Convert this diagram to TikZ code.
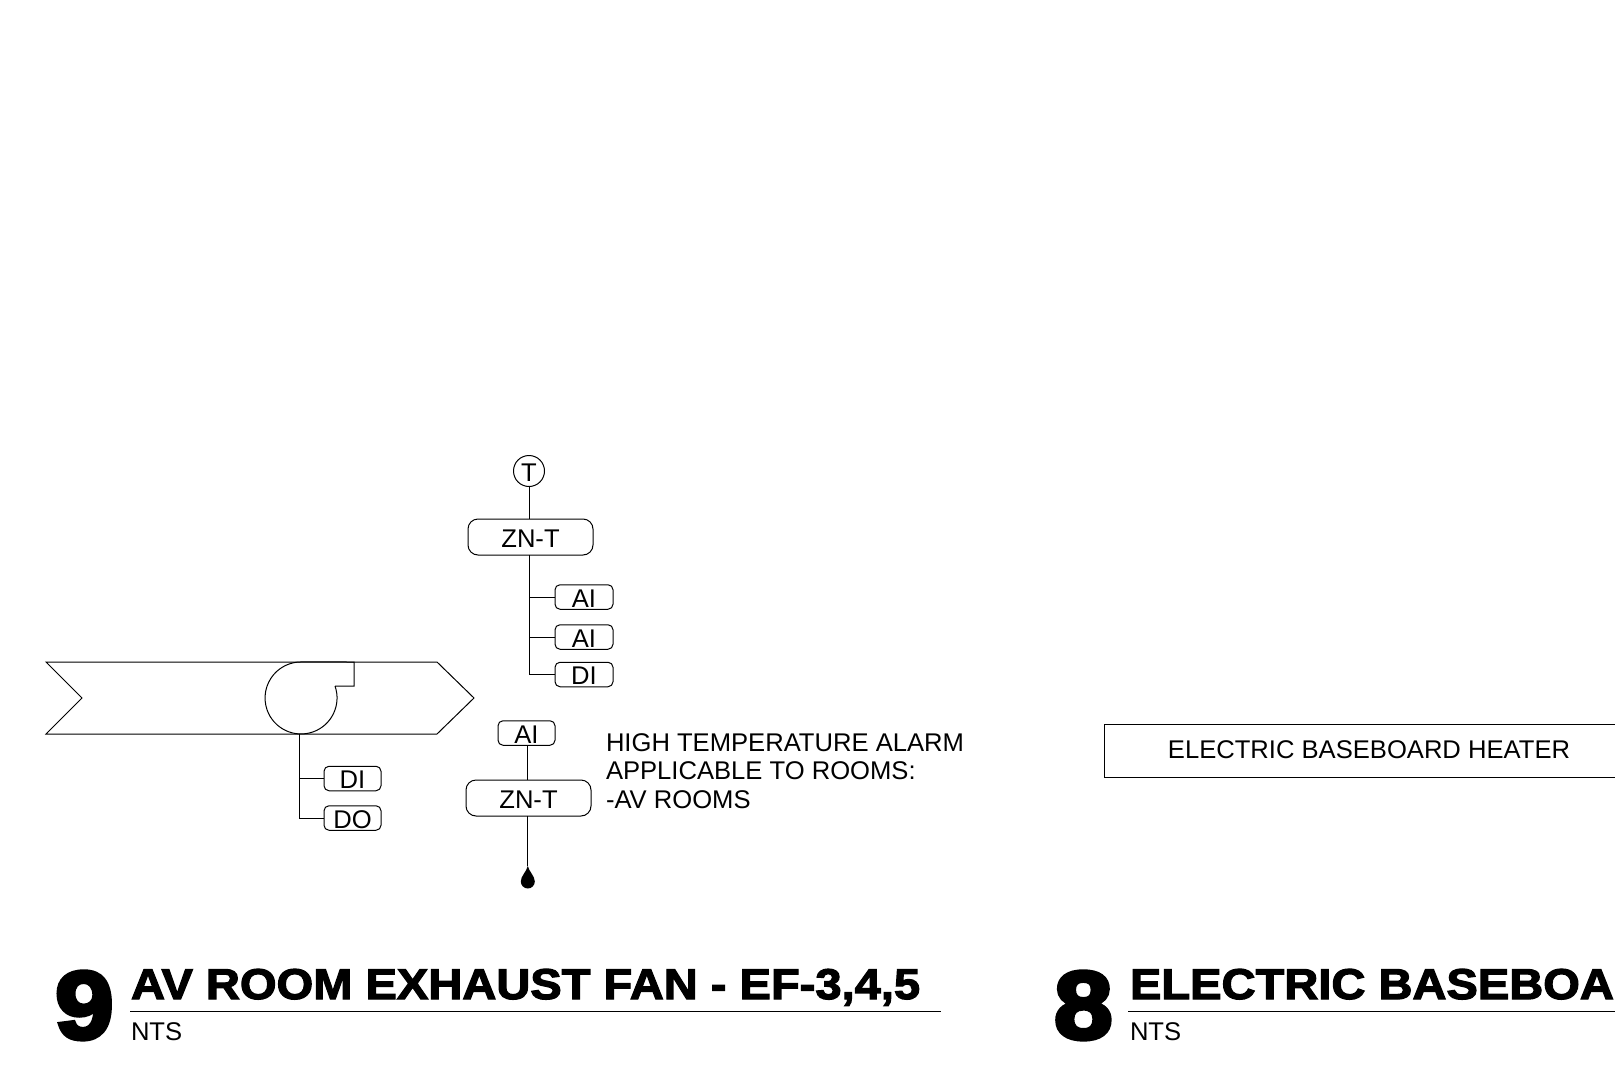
\documentclass[tikz,border=0pt]{standalone}
\usepackage{fontspec}
\setmainfont{Liberation Sans}
\newfontfamily\blackfont[FakeBold=2.8,FakeStretch=1.095]{Liberation Sans Bold}
\newfontfamily\bigfont[FakeBold=4.5,FakeStretch=1.1]{Liberation Sans Bold}
\newcommand{\lbl}{\fontsize{25.6pt}{28.5pt}\selectfont}
\tikzset{
  x=1pt,y=1pt,
  every node/.style={inner sep=0pt,outer sep=0pt,font=\lbl},
  smallbox/.style={draw,rounded corners=5pt,minimum width=58pt,minimum height=24.5pt,text height=20pt,text depth=0pt},
  bigbox/.style={draw,rounded corners=10pt,minimum width=125pt,minimum height=36pt,text height=20pt,text depth=0pt},
  sensor/.style={draw,circle,minimum size=31pt,text height=20pt,text depth=0pt},
  titletext/.style={anchor=base west,font=\blackfont\fontsize{43pt}{43pt}\selectfont},
  numtext/.style={anchor=base west,font=\bigfont\fontsize{96pt}{96pt}\selectfont},
  ntstext/.style={anchor=base west},
}
\begin{document}
\begin{tikzpicture}[line width=1pt]
\clip (0,0) rectangle (1615,-1065);
\fill[white] (0,0) rectangle (1615,-1065);

% duct
\coordinate (ductTL) at (46,-662);
\coordinate (ductBL) at (46,-734);
\coordinate (ductN) at (82,-698);
\coordinate (ductTR) at (437,-662);
\coordinate (ductBR) at (437,-734);
\coordinate (ductT) at (474,-698);
\draw (ductTR) -- (ductTL) -- (ductN) -- (ductBL) -- (ductBR) -- (ductT) -- cycle;

% fan
\coordinate (fanS) at (335,-686);
\draw (fanS) arc[start angle=19.4,end angle=-270,radius=36] -- (354,-662) -- (354,-686) -- (fanS);
\coordinate (fanB) at (299.5,-734);

\node[smallbox,minimum width=57pt] (fdi) at (352.5,-778.5) {DI};
\node[smallbox,minimum width=57pt] (fdo) at (352.5,-818) {DO};
\draw (fanB) -- (fanB |- fdo.west) -- (fdo.west);
\draw (fanB |- fdi.west) -- (fdi.west);

% upper column
\node[sensor] (t) at (529,-471) {T};
\node[bigbox] (zn1) at (530.5,-537) {ZN-T};
\node[smallbox] (ai1) at (584,-597) {AI};
\node[smallbox] (ai2) at (584,-637) {AI};
\node[smallbox] (di1) at (584,-674.5) {DI};
\draw (t.south) -- (t.south |- zn1.north);
\draw (t.south |- zn1.south) -- (t.south |- di1.west) -- (di1.west);
\draw (t.south |- ai1.west) -- (ai1.west);
\draw (t.south |- ai2.west) -- (ai2.west);

% lower column
\node[smallbox,minimum width=57pt] (ai3) at (526.5,-733) {AI};
\node[bigbox] (zn2) at (528.5,-798) {ZN-T};
\coordinate (drop) at (527.8,-866);
\draw (drop |- ai3.south) -- (drop |- zn2.north);
\draw (drop |- zn2.south) -- (drop);
\fill (drop) .. controls (529.3,-872) and (534.8,-876) .. (534.8,-881.5)
  arc[start angle=0,end angle=-180,radius=7]
  .. controls (520.8,-876) and (526.3,-872) .. (drop) -- cycle;

\node[anchor=west,align=left] (note) at (606,-771) {HIGH TEMPERATURE ALARM\\APPLICABLE TO ROOMS:\\-AV ROOMS};

% baseboard
\draw (1620,-724) -- (1104,-724) -- (1104,-777.5) -- (1620,-777.5);
\node (bb) at (1369,-749.5) {ELECTRIC BASEBOARD HEATER};

% titles
\node[numtext] (n9) at (55,-1038.5) {9};
\node[titletext] (t9) at (131,-999) {AV ROOM EXHAUST FAN - EF-3,4,5};
\draw (130,-1011.5) -- (941,-1011.5);
\node[ntstext] (nts9) at (131,-1040) {NTS};

\node[numtext] (n8) at (1054,-1038.5) {8};
\node[titletext] (t8) at (1130,-999) {ELECTRIC BASEBOARD};
\draw (1128,-1011.5) -- (1620,-1011.5);
\node[ntstext] (nts8) at (1130,-1040) {NTS};
\end{tikzpicture}
\end{document}
